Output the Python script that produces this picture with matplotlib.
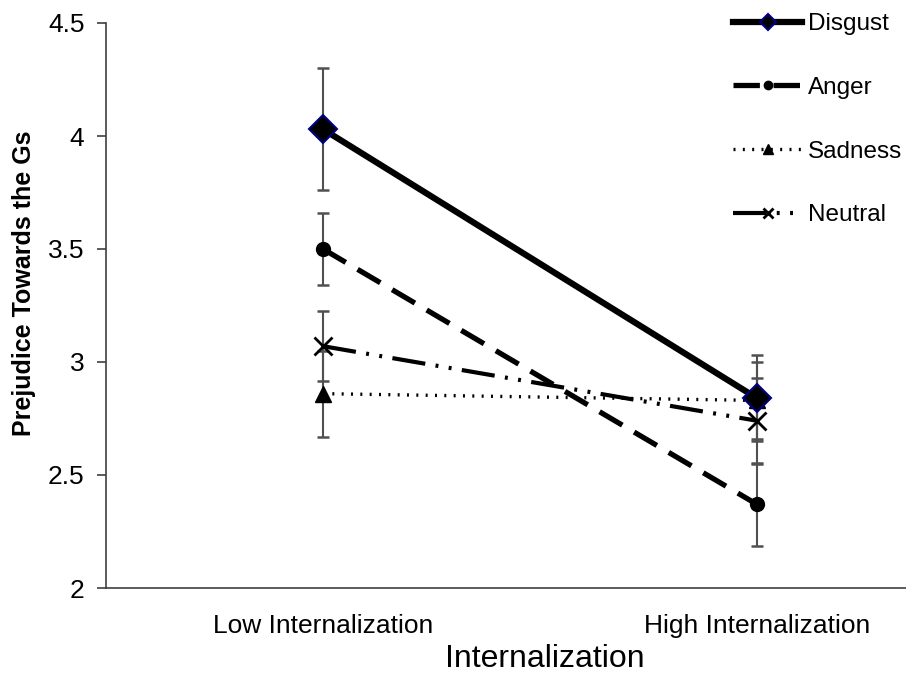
import matplotlib
matplotlib.use('Agg')
import matplotlib.pyplot as plt
import numpy as np

plt.rcParams['font.family'] = ['Liberation Sans', 'DejaVu Sans']

# data
conditions = ['Low Internalization', 'High Internalization']
emotions = ['Disgust', 'Anger', 'Sadness', 'Neutral']
means = {
    'Disgust': [4.03, 2.84],
    'Anger': [3.50, 2.37],
    'Sadness': [2.86, 2.83],
    'Neutral': [3.07, 2.74],
}
errors = {
    'Disgust': [0.27, 0.19],
    'Anger': [0.16, 0.185],
    'Sadness': [0.19, 0.17],
    'Neutral': [0.155, 0.19],
}

styles = {
    'Disgust': dict(ls='-', lw=4.5, marker='D', ms=14, mfc='black', mec='#000080', mew=1.5, z=6),
    'Anger': dict(ls=(0, (5, 2.6)), lw=3.8, marker='o', ms=10, mfc='black', mec='black', mew=1, z=5),
    'Sadness': dict(ls=(0, (0.6, 2.2)), lw=2.4, marker='^', ms=11, mfc='black', mec='black', mew=1, z=4),
    'Neutral': dict(ls=(0, (8, 2.5, 0.7, 2.5, 0.7, 2.5)), lw=3.0, marker='x', ms=13, mfc='black',
                    mec='black', mew=2, z=3),
}

W, H = 906, 675
fig = plt.figure(figsize=(W / 100, H / 100), dpi=100)
# plot area runs past the right edge of the picture, like the source
ax = fig.add_axes([106 / W, 1 - 588 / H, 868 / W, (588 - 23) / H])

x = np.arange(len(conditions))

# error bars first (behind the lines)
for emo in emotions:
    ax.errorbar(x, means[emo], yerr=errors[emo], fmt='none', ecolor='#505050', elinewidth=1.5,
                capsize=4.5, capthick=1.8, zorder=2)

handles = []
for emo in emotions:
    s = styles[emo]
    line, = ax.plot(x, means[emo], linestyle=s['ls'], linewidth=s['lw'], color='black',
                    marker=s['marker'], markersize=s['ms'], markerfacecolor=s['mfc'],
                    markeredgecolor=s['mec'], markeredgewidth=s['mew'], zorder=s['z'],
                    label=emo)
    handles.append(line)

ax.set_xlim(-0.5, 1.5)
ax.set_ylim(2, 4.5)
ax.set_yticks([2, 2.5, 3, 3.5, 4, 4.5])
ax.set_yticklabels(['2', '2.5', '3', '3.5', '4', '4.5'])
ax.set_xticks(x)
ax.set_xticklabels(conditions)

for side in ['top', 'right']:
    ax.spines[side].set_visible(False)
for side in ['left', 'bottom']:
    ax.spines[side].set_color('#404040')
    ax.spines[side].set_linewidth(1.2)

ax.tick_params(axis='y', direction='out', length=6.5, width=1.2, color='#404040',
               labelsize=19, pad=9)
ax.tick_params(axis='x', length=0, labelsize=19, pad=19)

ax.set_xlabel('Internalization', fontsize=23)
ax.xaxis.set_label_coords((545 - 106) / 868, -(644 - 588) / 565)
ax.set_ylabel('Prejudice Towards the Gs', fontsize=18, fontweight='bold')
ax.yaxis.set_label_coords((36 - 106) / 868, (588 - 283) / 565)

leg = ax.legend(handles=handles, loc='upper left', bbox_to_anchor=(733 / W, 1 - 13 / H),
                bbox_transform=fig.transFigure, frameon=False, fontsize=17.5,
                handlelength=2.85, handletextpad=0.22, labelspacing=1.72, markerscale=0.6,
                borderaxespad=0, borderpad=0)

fig.savefig('out.png', dpi=100)
